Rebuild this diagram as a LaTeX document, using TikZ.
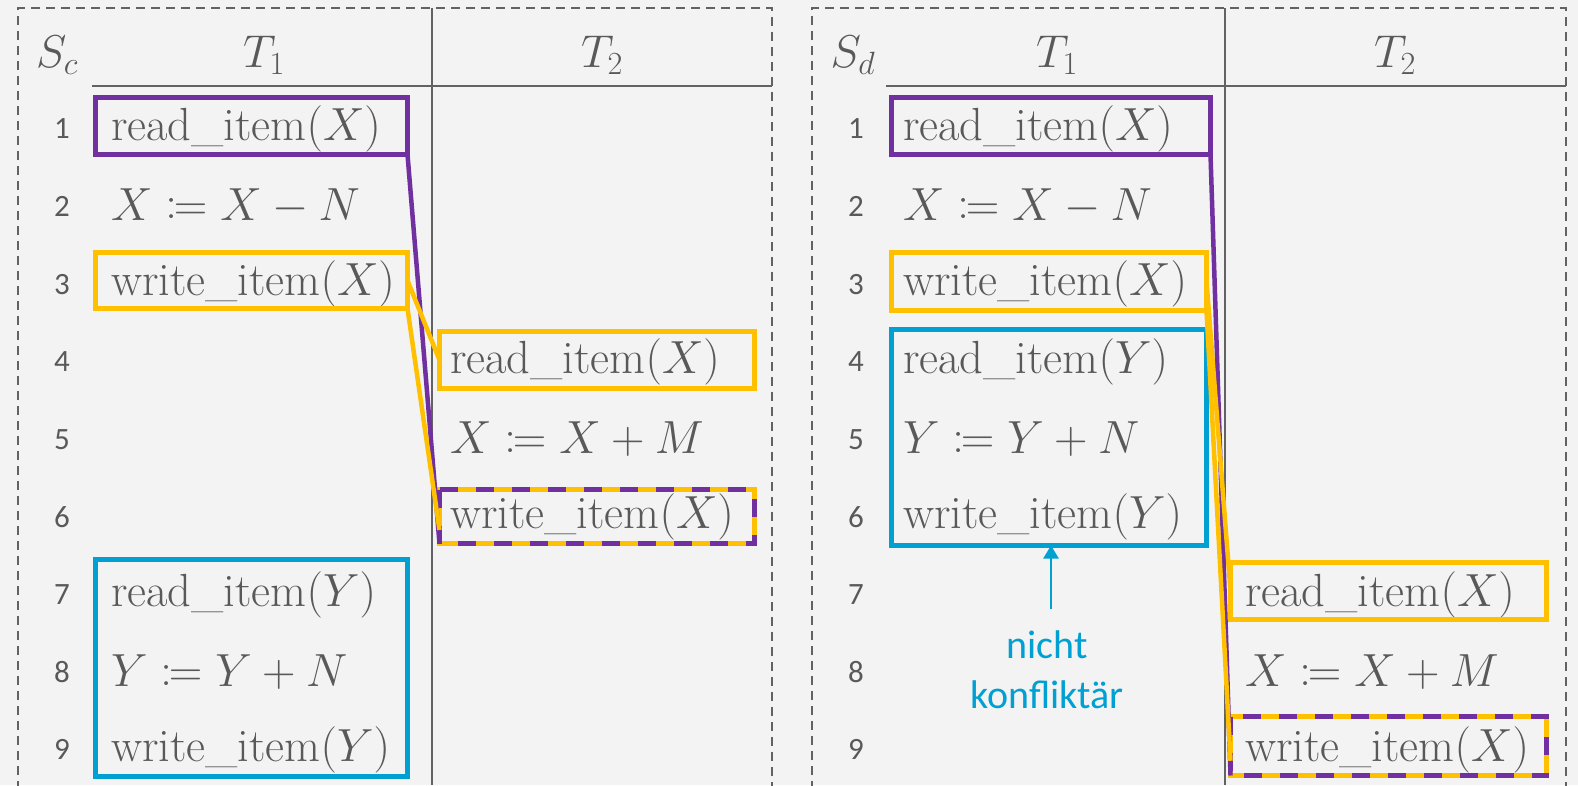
\RequirePackage{fix-cm}
\documentclass[tikz,border=0pt]{standalone}
\usepackage{mathtools}
\usepackage{fontspec}
\newfontfamily\numfont{Carlito}
\usetikzlibrary{arrows.meta,calc}
\definecolor{bg}{RGB}{243,243,243}
\definecolor{ink}{RGB}{89,89,89}
\definecolor{rulegray}{RGB}{98,98,98}
\definecolor{lila}{RGB}{112,48,160}
\definecolor{gelb}{RGB}{255,192,0}
\definecolor{blau}{RGB}{0,160,210}
\newcommand\opitem[2]{#1\_item$(#2)$}
\begin{document}
\begin{tikzpicture}[x=1pt,y=-1pt,
  every node/.style={text=ink, inner sep=0pt, outer sep=0pt},
  op/.style={anchor=west, font=\fontsize{46.5}{54}\selectfont},
  head/.style={font=\fontsize{46}{54}\selectfont},
  num/.style={font=\numfont\fontsize{31}{36}\selectfont},
  frame/.style={draw=rulegray, line width=2.5pt, dash pattern=on 9pt off 6pt},
  sep/.style={draw=rulegray, line width=2.5pt},
  opbox/.style={draw=#1, line width=5pt, rectangle},
  link/.style={draw=#1, line width=4.5pt},
  mixdash/.style={draw=lila, line width=5pt, dash pattern=on 18pt off 18pt}
]
\useasboundingbox (0,0) rectangle (1578,785);
\fill[bg] (0,0) rectangle (1578,785);

% ---------- frames and column rules ----------
\draw[frame] (18,790) -- (18,8) -- (772,8) -- (772,790);
\draw[frame] (812,790) -- (812,8) -- (1566,8) -- (1566,790);
\draw[sep] (432,8) -- (432,785);
\draw[sep] (92,86) -- (772,86);
\draw[sep] (1225,8) -- (1225,785);
\draw[sep] (886,86) -- (1566,86);

% ---------- headers ----------
\node[head] (hSc) at (57,55) {$S_c$};
\node[head] (hT1a) at (264,55) {$T_1$};
\node[head] (hT2a) at (602,55) {$T_2$};
\node[head] (hSd) at (853,55) {$S_d$};
\node[head] (hT1b) at (1057,55) {$T_1$};
\node[head] (hT2b) at (1395,55) {$T_2$};

% ---------- row numbers ----------
\foreach \i in {1,...,9}{
  \pgfmathsetmacro\ry{129+77.6*(\i-1)}
  \node[num] (na\i) at (62,\ry) {\i};
  \node[num] (nb\i) at (856,\ry) {\i};
}

% ---------- schedule S_c ----------
\node[op] (a1) at (111,129) {\opitem{read}{X}};
\node[op] (a2) at (111,206.6) {$X \coloneqq X - N$};
\node[op] (a3) at (111,284.2) {\opitem{write}{X}};
\node[op] (a4) at (450,361.8) {\opitem{read}{X}};
\node[op] (a5) at (450,439.4) {$X \coloneqq X + M$};
\node[op] (a6) at (450,517) {\opitem{write}{X}};
\node[op] (a7) at (111,594.6) {\opitem{read}{Y}};
\node[op] (a8) at (111,672.2) {$Y \coloneqq Y + N$};
\node[op] (a9) at (111,749.8) {\opitem{write}{Y}};

\node[opbox=lila, minimum width=312, minimum height=57] (Lp1) at (251.5,126) {};
\node[opbox=gelb, minimum width=312, minimum height=56] (Ly3) at (251.5,280.5) {};
\node[opbox=gelb, minimum width=315, minimum height=57] (Ly4) at (597,360) {};
\node[opbox=gelb, minimum width=315, minimum height=54] (Ld6) at (597,516.5) {};
\draw[mixdash] (Ld6.north west) rectangle (Ld6.south east);
\node[opbox=blau, minimum width=312, minimum height=217] (Lb) at (251.5,668) {};

\draw[link=lila] (Lp1.south east) -- (Ld6.south west);
\draw[link=gelb] (Ly3.east) -- (Ly4.west);
\draw[link=gelb] (Ly3.south east) -- ($(Ld6.west)!0.5!(Ld6.south west)$);

% ---------- schedule S_d ----------
\node[op] (b1) at (903,129) {\opitem{read}{X}};
\node[op] (b2) at (903,206.6) {$X \coloneqq X - N$};
\node[op] (b3) at (903,284.2) {\opitem{write}{X}};
\node[op] (b4) at (903,361.8) {\opitem{read}{Y}};
\node[op] (b5) at (903,439.4) {$Y \coloneqq Y + N$};
\node[op] (b6) at (903,517) {\opitem{write}{Y}};
\node[op] (b7) at (1245,594.6) {\opitem{read}{X}};
\node[op] (b8) at (1245,672.2) {$X \coloneqq X + M$};
\node[op] (b9) at (1245,749.8) {\opitem{write}{X}};

\node[opbox=lila, minimum width=319, minimum height=57] (Rp1) at (1051,126) {};
\node[opbox=gelb, minimum width=315, minimum height=58] (Ry3) at (1049,281.5) {};
\node[opbox=blau, minimum width=315, minimum height=216] (Rb) at (1049,437.5) {};
\node[opbox=gelb, minimum width=316, minimum height=57] (Ry7) at (1388.5,591) {};
\node[opbox=gelb, minimum width=316, minimum height=59] (Rd9) at (1388.5,746) {};
\draw[mixdash] (Rd9.north west) rectangle (Rd9.south east);

\draw[link=lila] (Rp1.south east) -- (Rd9.south west);
\draw[link=gelb] (Ry3.east) -- (Ry7.west);
\draw[link=gelb] (Ry3.south east) -- ($(Rd9.west)!0.5!(Rd9.south west)$);

% ---------- annotation ----------
\node[font=\numfont\fontsize{40}{50}\selectfont, text=blau, align=center] (nk) at (1047,670) {nicht\\konfliktär};
\coordinate (nkTop) at (1051,609);
\draw[blau, line width=2.5pt, -{Triangle[length=13pt,width=15pt]}] (nkTop) -- (nkTop |- Rb.south);
\end{tikzpicture}
\end{document}
